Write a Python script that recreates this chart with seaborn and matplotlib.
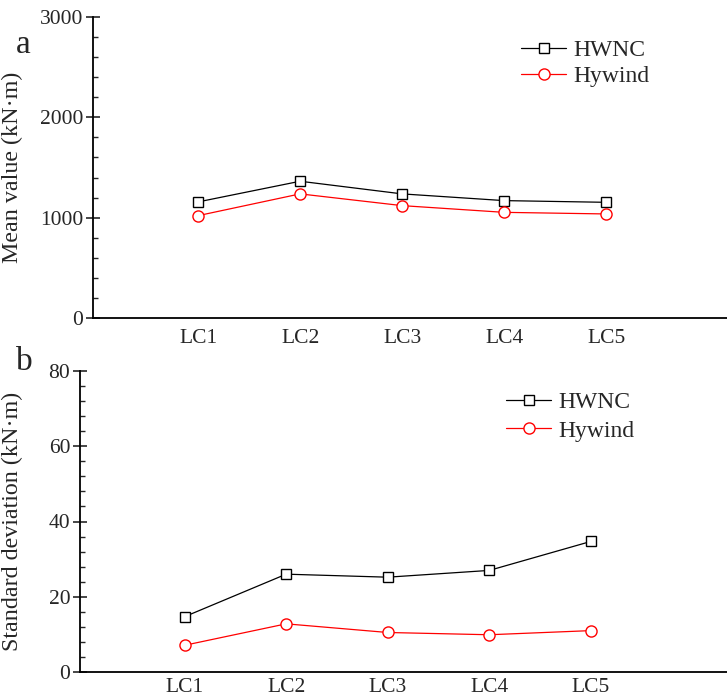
import numpy as np
import pandas as pd
import matplotlib
matplotlib.use("Agg")
import matplotlib.pyplot as plt
from matplotlib.ticker import MultipleLocator, AutoMinorLocator
import seaborn as sns

# values
cases = ["LC1", "LC2", "LC3", "LC4", "LC5"]
mean_hwnc = [1157, 1363, 1237, 1170, 1153]
mean_hywind = [1020, 1237, 1120, 1053, 1037]
std_hwnc = [14.7, 26.0, 25.2, 27.0, 34.7]
std_hywind = [7.1, 12.8, 10.5, 9.9, 11.0]

sns.set_theme(style="ticks")
plt.rcParams["font.family"] = ["Liberation Serif", "DejaVu Serif"]

W, H = 727, 698
fig = plt.figure(figsize=(W / 100, H / 100), dpi=100)


def px_axes(left, right, top, bottom):
    return fig.add_axes([left / W, 1 - bottom / H, (right - left) / W, (bottom - top) / H])


ax_a = px_axes(93, 749, 17, 318)
ax_b = px_axes(80, 733, 371, 672)


def draw(ax, hwnc, hywind, ylim, major, ylabel, label_x, leg_anchor, spacing, xpad):
    x = np.arange(len(cases))
    sns.lineplot(x=x, y=hwnc, ax=ax, color="black", marker="s", markersize=7,
                 markerfacecolor="white", markeredgecolor="black", markeredgewidth=1.0,
                 linewidth=0.9, label="HWNC")
    sns.lineplot(x=x, y=hywind, ax=ax, color="red", marker="o", markersize=8,
                 markerfacecolor="white", markeredgecolor="red", markeredgewidth=1.0,
                 linewidth=0.9, label="Hywind")
    ax.set_xlim(-1.03, 5.4)
    ax.set_ylim(*ylim)
    ax.set_xticks(x)
    ax.set_xticklabels(cases)
    ax.yaxis.set_major_locator(MultipleLocator(major))
    ax.yaxis.set_minor_locator(AutoMinorLocator(5))
    ax.tick_params(axis="y", which="major", direction="inout", length=10, width=1.2,
                   labelsize=15.5, pad=2)
    ax.tick_params(axis="y", which="minor", direction="in", length=3.5, width=1.0)
    ax.tick_params(axis="x", length=0, labelsize=15.5, pad=xpad)
    for s in ["top", "right"]:
        ax.spines[s].set_visible(False)
    for s in ["left", "bottom"]:
        ax.spines[s].set_linewidth(1.3)
        ax.spines[s].set_color("black")
    ax.set_xlabel("")
    ax.set_ylabel(ylabel, fontsize=17.3)
    ax.yaxis.set_label_coords(label_x, 0.5)
    ax.legend(loc="upper left", bbox_to_anchor=leg_anchor, frameon=False,
              fontsize=17, handlelength=1.9, handletextpad=0.3, labelspacing=spacing,
              borderaxespad=0)


draw(ax_a, mean_hwnc, mean_hywind, (0, 3000), 1000, "Mean value (kN·m)", -0.107,
     ((512 - 93) / 656, 1 - (30 - 17) / 301), 0.2, 8)
draw(ax_b, std_hwnc, std_hywind, (0, 80), 20, "Standard deviation (kN·m)", -0.088,
     ((497 - 80) / 653, 1 - (382 - 371) / 301), 0.3, 4)

fig.text(16 / W, 1 - 45 / H, "a", fontsize=24, va="center", ha="left")
fig.text(16 / W, 1 - 362 / H, "b", fontsize=24, va="center", ha="left")

fig.savefig("out.png", dpi=100)
